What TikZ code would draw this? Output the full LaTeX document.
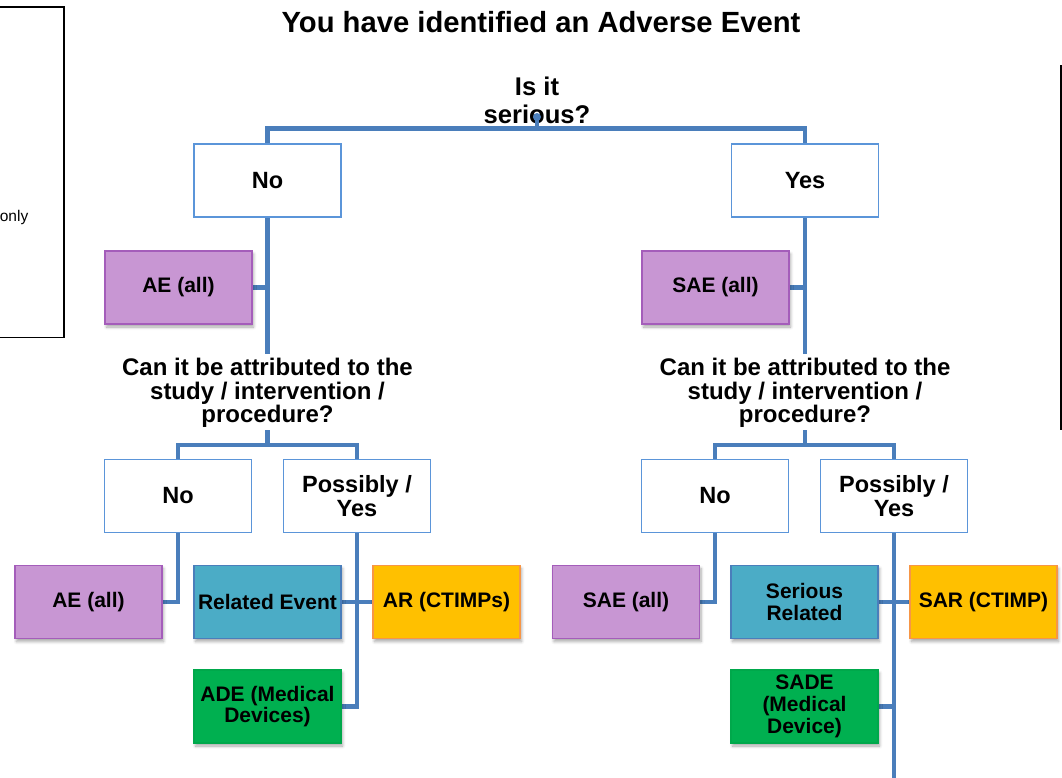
\documentclass[tikz,border=0pt]{standalone}
\usepackage{fontspec}
\setmainfont{Liberation Sans}
\usetikzlibrary{shadows.blur}

\definecolor{linkblue}{HTML}{4A7EBB}
\definecolor{choiceline}{HTML}{5B95D9}
\definecolor{aefill}{HTML}{C896D3}
\definecolor{aeline}{HTML}{A45DBA}
\definecolor{relfill}{HTML}{4BACC6}
\definecolor{relline}{HTML}{4A7EBB}
\definecolor{arfill}{HTML}{FFC000}
\definecolor{arline}{HTML}{F79646}
\definecolor{adefill}{HTML}{00B050}
\definecolor{adeline}{HTML}{00A84B}

\pgfdeclarelayer{background}
\pgfsetlayers{background,main}

\tikzset{
  link/.style={draw=linkblue, line width=4.5pt},
  choice/.style={draw=choiceline, line width=1.8pt, fill=white,
    minimum width=147pt, minimum height=73pt, inner sep=0pt, align=center,
    font=\bfseries\fontsize{23.5}{24}\selectfont},
  tag/.style={line width=1.8pt, minimum width=147pt, minimum height=73pt,
    inner sep=0pt, align=center, font=\bfseries\fontsize{21}{21.7}\selectfont,
    blur shadow={shadow xshift=1.5pt, shadow yshift=-3pt, shadow blur radius=3pt,
      shadow blur steps=6, shadow opacity=35}},
  aebox/.style={tag, fill=aefill, draw=aeline},
  relbox/.style={tag, fill=relfill, draw=relline},
  arbox/.style={tag, fill=arfill, draw=arline},
  adebox/.style={tag, fill=adefill, draw=adeline},
  question/.style={align=center, inner sep=0pt,
    font=\bfseries\fontsize{24}{23.5}\selectfont},
  frame/.style={draw=black, line width=1.3pt},
}

\begin{document}
\begin{tikzpicture}[x=1pt, y=-1pt]
\useasboundingbox (0,0) rectangle (1062,778);

% side panels, partly outside the page
\draw[frame] (-20,7) rectangle (64,337.5);
\node[anchor=base east, inner sep=0pt, font=\fontsize{15.5}{18}\selectfont] (onlytxt) at (28.5,222) {only};
\draw[frame] (1061,66) rectangle (1090,429.5);

% title and first question
\node[inner sep=0pt, font=\bfseries\fontsize{29.2}{32}\selectfont] (title) at (541,22) {You have identified an Adverse Event};
\node[align=center, inner sep=0pt, font=\bfseries\fontsize{25.6}{28}\selectfont] (q1) at (537,100) {Is it\\serious?};

% first level
\node[choice] (no1)  at (267.5,180.5) {No};
\node[choice] (yes1) at (805,180.5) {Yes};
\node[aebox]  (ae1)  at (178.5,287.5) {AE (all)};
\node[aebox]  (sae1) at (715.5,287.5) {SAE (all)};

% second question, both branches
\node[question] (q2) at (267.5,393) {Can it be attributed to the\\study / intervention /\\procedure?};
\node[question] (q3) at (805,393) {Can it be attributed to the\\study / intervention /\\procedure?};

% second level
\node[choice] (no2)  at (178,496) {No};
\node[choice] (pos1) at (357,496) {Possibly /\\Yes};
\node[choice] (no3)  at (715,496) {No};
\node[choice] (pos2) at (894,496) {Possibly /\\Yes};

% outcomes, non-serious branch
\node[aebox]  (ae2) at (88.5,602) {AE (all)};
\node[relbox] (rel) at (267.5,602) {Related Event};
\node[arbox]  (ar)  at (446.5,602) {AR (CTIMPs)};
\node[adebox] (ade) at (267.5,706.5) {ADE (Medical\\Devices)};

% outcomes, serious branch
\node[aebox]  (sae2) at (626,602) {SAE (all)};
\node[relbox] (srel) at (804.5,602) {Serious\\Related};
\node[arbox]  (sar)  at (983.5,602) {SAR (CTIMP)};
\node[adebox] (sade) at (804.5,706.5) {SADE\\(Medical\\Device)};

% junction points
\coordinate (bar1) at (537,128.5);
\coordinate (dot1) at (537,117);
\coordinate (j2top) at (267.5,354);
\coordinate (j2low) at (267.5,430);
\coordinate (bar2) at (267.5,445);
\coordinate (j3top) at (805,354);
\coordinate (j3low) at (805,430);
\coordinate (bar3) at (805,445);
\coordinate (tail) at (894,790);

\begin{pgfonlayer}{background}
  % seriousness split
  \draw[link] (no1.north) |- (bar1) -| (yes1.north);
  % non-serious branch
  \draw[link] (no1.south) -- (j2top);
  \draw[link] (ae1.east) -- (ae1.east -| no1.south);
  \draw[link] (j2low) -- (bar2);
  \draw[link] (no2.north) |- (bar2) -| (pos1.north);
  \draw[link] (no2.south) |- (ae2.east);
  \draw[link] (pos1.south) |- (ade.east);
  \draw[link] (rel.east) -- (ar.west);
  % serious branch
  \draw[link] (yes1.south) -- (j3top);
  \draw[link] (sae1.east) -- (sae1.east -| yes1.south);
  \draw[link] (j3low) -- (bar3);
  \draw[link] (no3.north) |- (bar3) -| (pos2.north);
  \draw[link] (no3.south) |- (sae2.east);
  \draw[link] (pos2.south) -- (tail);
  \draw[link] (sade.east) -- (sade.east -| pos2.south);
  \draw[link] (srel.east) -- (sar.west);
\end{pgfonlayer}

% stem of the first split, drawn over its label
\draw[link] (bar1) -- (dot1);
\fill[linkblue] (dot1) circle (4pt);
\end{tikzpicture}
\end{document}
